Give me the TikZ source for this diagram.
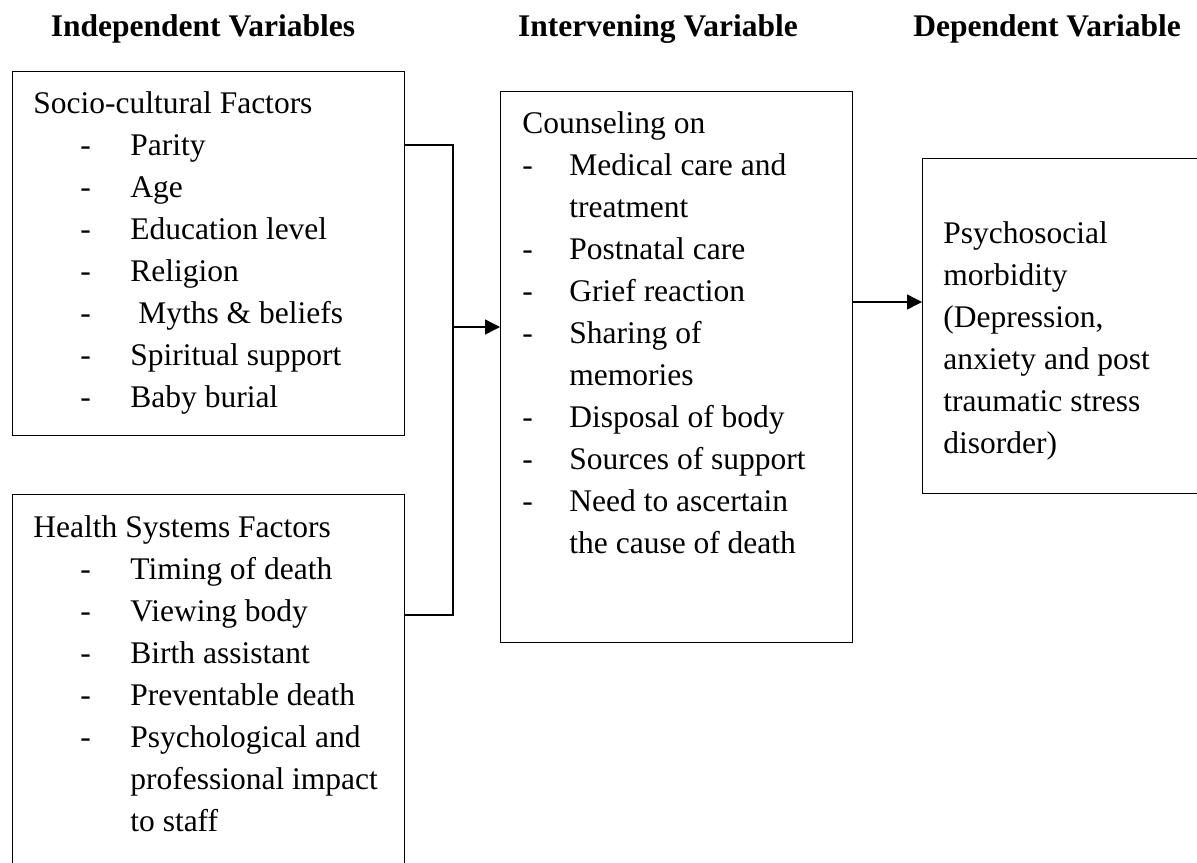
\documentclass[tikz,border=0pt]{standalone}
\usepackage{fontspec}
\setmainfont{Liberation Serif}
\usetikzlibrary{arrows.meta}
\newcommand\itm{\hspace*{23.5pt}\makebox[25pt][l]{-}}
\newcommand\citm{\makebox[23.5pt][l]{-}}
\newcommand\cont{\hspace*{23.5pt}}
\begin{document}
\begin{tikzpicture}[x=0.5pt,y=-0.5pt,
  box/.style={draw,line width=0.7pt,anchor=north west,inner sep=0pt},
  txt/.style={anchor=north west,inner sep=0pt,align=left,font=\fontsize{15.75}{21}\selectfont},
  head/.style={anchor=base,inner sep=0pt,font=\fontsize{15.75}{21}\selectfont\bfseries},
  conn/.style={line width=0.7pt},
  arr/.style={line width=0.7pt,-{Triangle[length=7.5pt,width=7.5pt]}}]
\useasboundingbox (0,0) rectangle (1197,862);
\clip (0,0) rectangle (1197,862);

% headings
\node[head] (h1) at (203,36) {Independent Variables};
\node[head] (h2) at (658,36) {Intervening Variable};
\node[head] (h3) at (1047,36) {Dependent Variable};

% boxes
\node[box,minimum width=196pt,minimum height=182pt] (sbox) at (12,71) {};
\node[box,minimum width=196pt,minimum height=203pt] (hbox) at (12,494) {};
\node[box,minimum width=176pt,minimum height=275.5pt] (cbox) at (500,91) {};
\node[box,minimum width=154pt,minimum height=167.5pt] (pbox) at (922,158) {};

% texts
\node[txt] (stxt) at (33,83.6) {\strut Socio-cultural Factors\\
\itm Parity\\
\itm Age\\
\itm Education level\\
\itm Religion\\
\itm\ Myths \& beliefs\\
\itm Spiritual support\\
\itm Baby burial};

\node[txt] (htxt) at (33,507.6) {\strut Health Systems Factors\\
\itm Timing of death\\
\itm Viewing body\\
\itm Birth assistant\\
\itm Preventable death\\
\itm Psychological and\\
\cont\hspace*{25pt}professional impact\\
\cont\hspace*{25pt}to staff};

\node[txt] (ctxt) at (522,103.6) {\strut Counseling on\\
\citm Medical care and\\
\cont treatment\\
\citm Postnatal care\\
\citm Grief reaction\\
\citm Sharing of\\
\cont memories\\
\citm Disposal of body\\
\citm Sources of support\\
\citm Need to ascertain\\
\cont the cause of death};

\node[txt] (ptxt) at (943,213.6) {\strut Psychosocial\\
morbidity\\
(Depression,\\
anxiety and post\\
traumatic stress\\
disorder)};

% connectors
\coordinate (ja) at (453,145);
\coordinate (jb) at (453,615);
\coordinate (jc) at (453,327);
\coordinate (jd) at (890,302);
\draw[conn] (sbox.east |- ja) -- (ja) -- (jb) -- (hbox.east |- jb);
\draw[arr] (jc) -- (cbox.west |- jc);
\draw[arr] (cbox.east |- jd) -- (pbox.west |- jd);
\end{tikzpicture}
\end{document}
